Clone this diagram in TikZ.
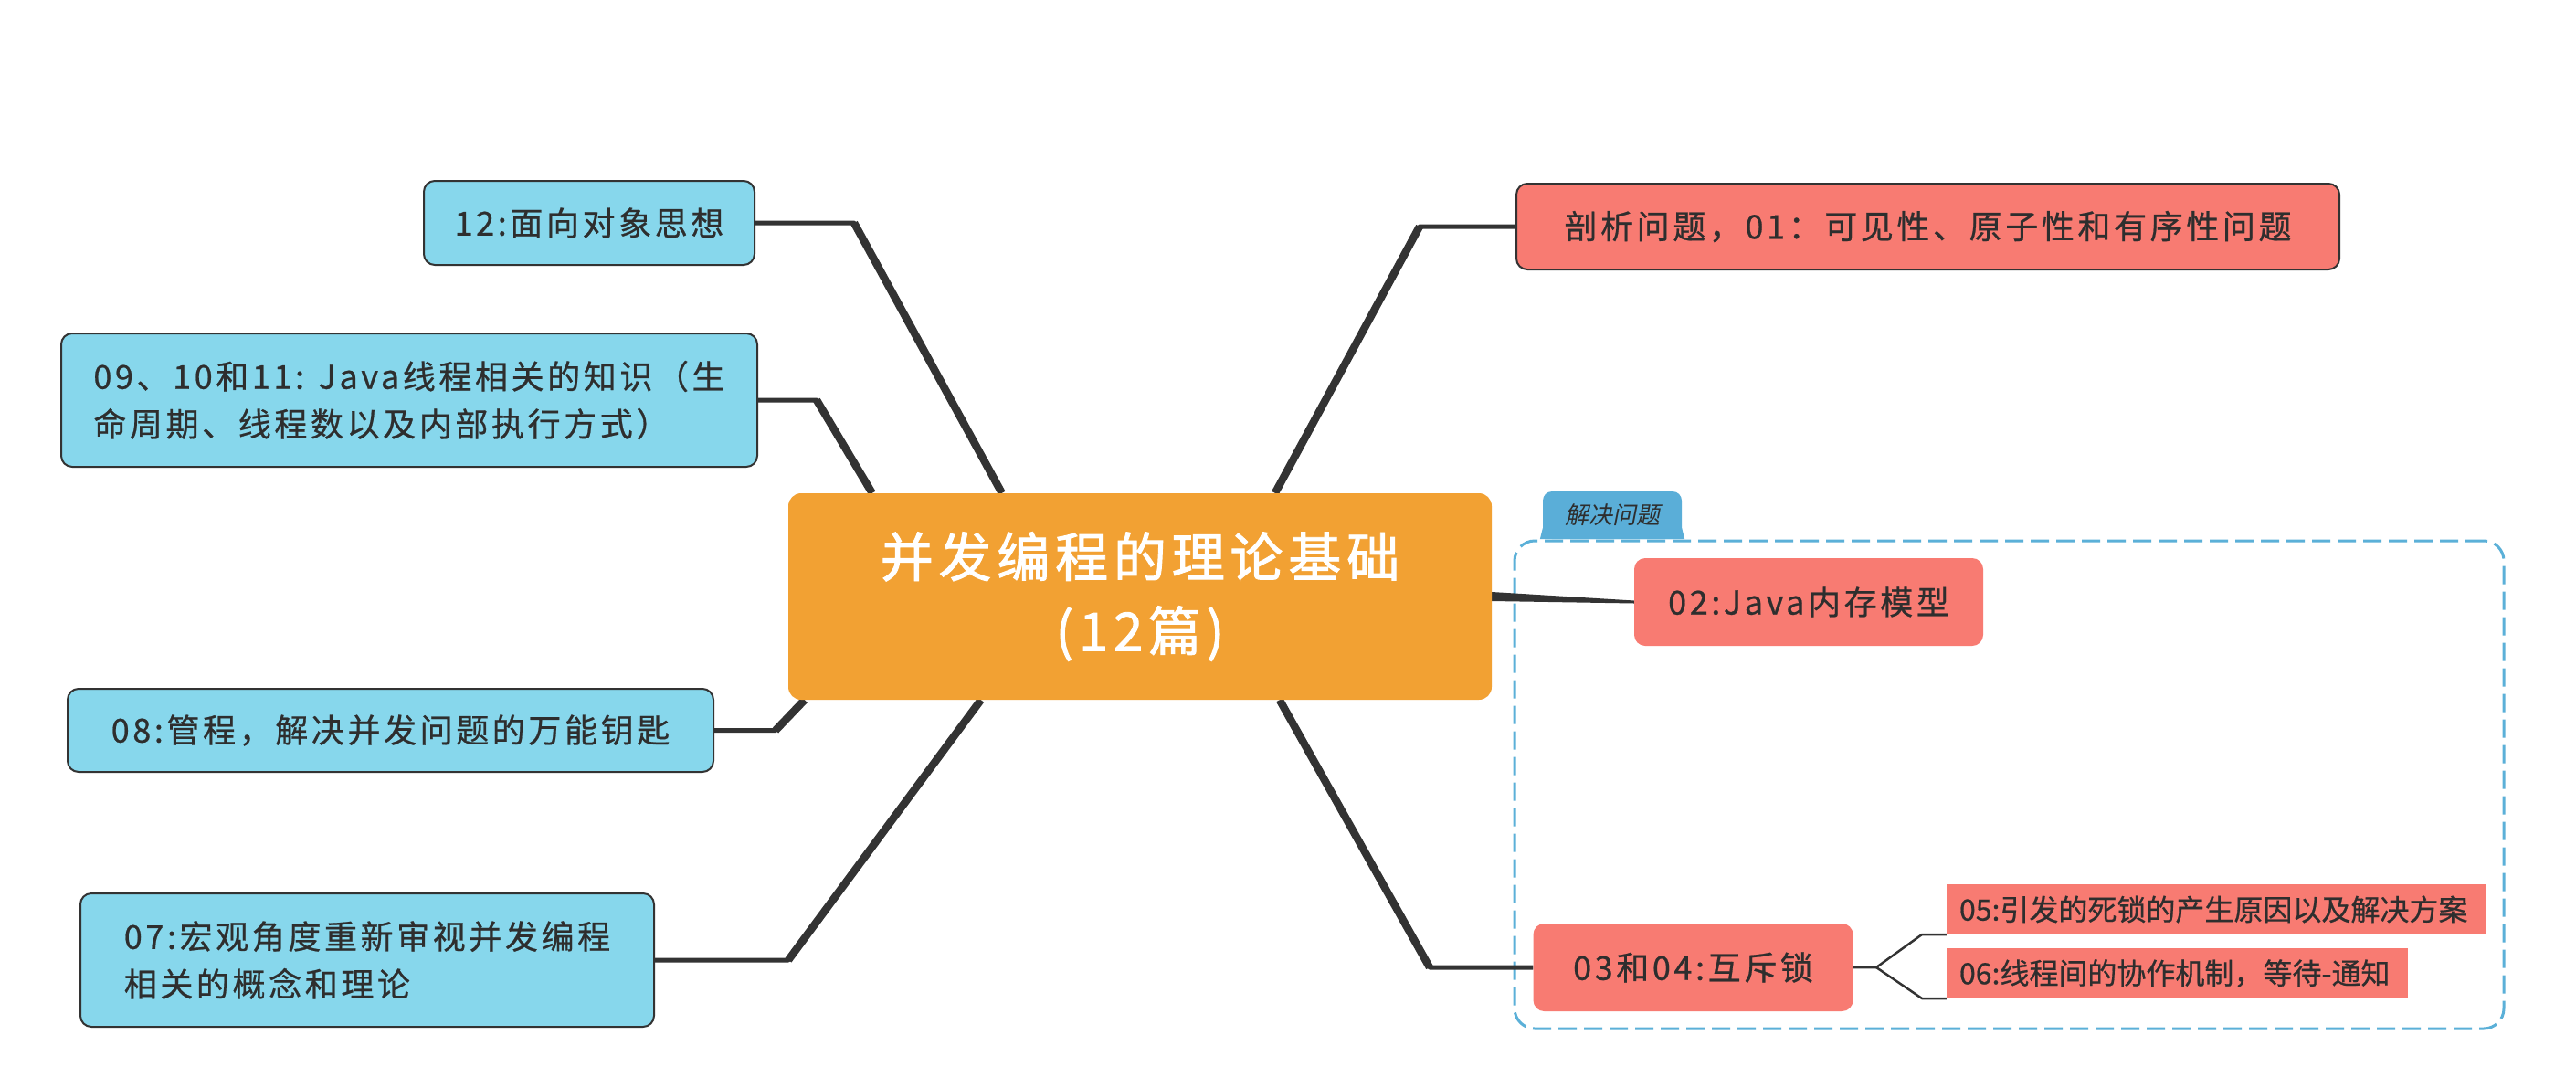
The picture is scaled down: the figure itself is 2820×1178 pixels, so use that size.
\documentclass[tikz,border=0pt]{standalone}
\usepackage{fontspec}
\setmainfont{Noto Sans CJK SC}
\newfontfamily\nodefont[LetterSpace=10,FakeBold=0.6]{Noto Sans CJK SC}
\newfontfamily\titlefont[LetterSpace=10,FakeBold=1.6]{Noto Sans CJK SC}
\newfontfamily\subfont[FakeBold=0.6]{Noto Sans CJK SC}
\newfontfamily\tabfont[FakeSlant=0.2]{Noto Sans CJK SC}
\usetikzlibrary{backgrounds,calc}
\definecolor{orangec}{HTML}{F2A133}
\definecolor{bluec}{HTML}{87D7EC}
\definecolor{redc}{HTML}{F87B72}
\definecolor{tabc}{HTML}{5AAED8}
\definecolor{dashc}{HTML}{5BB0D8}
\definecolor{linec}{HTML}{333333}
\definecolor{txtc}{HTML}{2E2E2E}
\tikzset{
  topic/.style={rounded corners=12pt, text=txtc, inner sep=0pt, align=center,
    font=\nodefont\fontsize{36}{52}\selectfont},
  bluebox/.style={topic, fill=bluec, draw=linec, line width=2pt},
  redbox/.style={topic, fill=redc},
  redframed/.style={topic, fill=redc, draw=linec, line width=2pt},
  central/.style={rounded corners=14pt, fill=orangec, text=white, inner sep=0pt,
    align=center, minimum width=770pt, minimum height=226pt,
    font=\titlefont\fontsize{58}{81}\selectfont},
  subbox/.style={fill=redc, text=txtc, inner xsep=14pt, inner ysep=0pt,
    align=left, minimum height=55pt, font=\subfont\fontsize{32}{40}\selectfont},
  conn/.style={draw=linec, line width=8.5pt, line cap=butt},
  connend/.style={draw=linec, line width=5pt, line join=round},
  thinconn/.style={draw=linec, line width=2.5pt, line join=round},
  group/.style={draw=dashc, line width=3pt, dash pattern=on 20pt off 8pt,
    rounded corners=22pt, minimum width=1083pt, minimum height=534pt},
  tabnode/.style={fill=tabc, rounded corners=10pt, minimum width=152pt,
    minimum height=52pt, inner sep=0pt, text=txtc,
    font=\tabfont\fontsize{26}{30}\selectfont}
}
\begin{document}
\begin{tikzpicture}[x=1pt,y=-1pt]
\useasboundingbox (0,0) rectangle (2820,1178);

% central
\node[central] (c) at (1248,653) {并发编程的理论基础\\(12篇)};

% left topics
\node[bluebox, minimum width=362pt, minimum height=92pt] (n12) at (645,244) {12:面向对象思想};
\node[bluebox, minimum width=762pt, minimum height=146pt, align=left] (n09) at (448,438)
  {09、10和11: Java线程相关的知识（生\\命周期、线程数以及内部执行方式）};
\node[bluebox, minimum width=707pt, minimum height=91pt] (n08) at (427.5,799.5) {08:管程，解决并发问题的万能钥匙};
\node[bluebox, minimum width=628pt, minimum height=146pt, align=left] (n07) at (402,1051)
  {07:宏观角度重新审视并发编程\\相关的概念和理论};

% right topics
\node[redframed, minimum width=901pt, minimum height=94pt] (n01) at (2110.5,248) {剖析问题，01：可见性、原子性和有序性问题};
\node[redbox, minimum width=382pt, minimum height=96pt] (n02) at (1980,659) {02:Java内存模型};
\node[redbox, minimum width=350pt, minimum height=96pt] (n03) at (1853.5,1059) {03和04:互斥锁};
\node[subbox, minimum width=590pt, text width=562pt] (n05) at (2426,995.5) {05:引发的死锁的产生原因以及解决方案};
\node[subbox, minimum width=505pt, text width=477pt] (n06) at (2383.5,1065.5) {06:线程间的协作机制，等待-通知};

% group tab
\node[tabnode] (tab) at (1765,564) {解决问题};

\begin{scope}[on background layer]
  \fill[white] (0,0) rectangle (2820,1178);
  \node[group] (grp) at (2199.5,859) {};
  \fill[tabc] ([xshift=-3pt]tab.south west) -- ([yshift=12pt]tab.south west) -- ([yshift=12pt]tab.south east) -- ([xshift=3pt]tab.south east) -- cycle;

  \coordinate (b12) at (935,244);
  \coordinate (b09) at (894,438);
  \coordinate (b08) at (849,799.5);
  \coordinate (b07) at (863,1051);
  \coordinate (b01) at (1554,248);
  \coordinate (b03) at (1565,1059);
  \coordinate (a12) at ([xshift=234pt]c.north west);
  \coordinate (a09) at ([xshift=92pt]c.north west);
  \coordinate (a08) at ([xshift=18pt]c.south west);
  \coordinate (a07) at ([xshift=211pt]c.south west);
  \coordinate (a01) at ([xshift=533pt]c.north west);
  \coordinate (a03) at ([xshift=538pt]c.south west);
  \foreach \k/\n in {12/n12.east, 09/n09.east, 08/n08.east, 07/n07.east, 01/n01.west, 03/n03.west}{
    \draw[conn] (a\k) -- (b\k);
    \draw[connend] ($(b\k)!14pt!(a\k)$) -- (b\k) -- (\n);
  }
  \fill[linec] ([yshift=5pt]c.east) -- ([yshift=1.5pt]n02.west) -- ([yshift=-1.5pt]n02.west) -- ([yshift=-5pt]c.east) -- cycle;

  \coordinate (s0) at (2054,1059);
  \coordinate (s5) at (2104,1023);
  \coordinate (s6) at (2104,1093);
  \draw[thinconn] (n03.east) -- (s0) -- (s5) -- (n05.south west);
  \draw[thinconn] (s0) -- (s6) -- (n06.south west);
\end{scope}
\end{tikzpicture}
\end{document}
